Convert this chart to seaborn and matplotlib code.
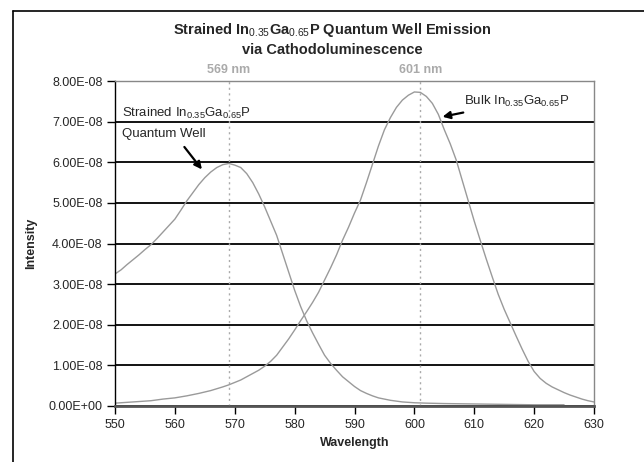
import numpy as np
import pandas as pd
import matplotlib
matplotlib.use("Agg")
import matplotlib.pyplot as plt
import matplotlib.transforms as mtransforms
from matplotlib.lines import Line2D
import seaborn as sns

# Strained quantum well spectrum (intensity in units of 1e-8)
qw_wavelength = [550, 551, 552, 553, 554, 555, 556, 557, 558, 559,
                 560, 561, 562, 563, 564, 565, 566, 567, 568, 569,
                 570, 571, 572, 573, 574, 575, 576, 577, 578, 579,
                 580, 581, 582, 583, 584, 585, 586, 587, 588, 589,
                 590, 591, 592, 593, 594, 595, 596, 597, 598, 599,
                 600, 602, 605, 610, 615, 620, 625]
qw_intensity = [3.25, 3.35, 3.48, 3.60, 3.72, 3.85, 3.97, 4.12, 4.28, 4.44,
                4.60, 4.82, 5.05, 5.25, 5.45, 5.62, 5.76, 5.87, 5.94, 5.97,
                5.93, 5.87, 5.72, 5.50, 5.22, 4.90, 4.55, 4.20, 3.75, 3.30,
                2.85, 2.45, 2.10, 1.80, 1.52, 1.25, 1.05, 0.88, 0.72, 0.60,
                0.48, 0.38, 0.31, 0.25, 0.20, 0.17, 0.14, 0.12, 0.10, 0.09,
                0.08, 0.07, 0.06, 0.05, 0.04, 0.03, 0.03]

# Bulk spectrum (intensity in units of 1e-8)
bulk_wavelength = [550, 552, 554, 556, 558, 560, 562, 564, 566, 568,
                   569, 570, 571, 572, 573, 574, 575, 576, 577, 578,
                   579, 580, 581, 582, 583, 584, 585, 586, 587, 588,
                   589, 590, 591, 592, 593, 594, 595, 596, 597, 598,
                   599, 600, 601, 602, 603, 604, 605, 606, 607, 608,
                   609, 610, 611, 612, 613, 614, 615, 616, 617, 618,
                   619, 620, 621, 622, 623, 624, 625, 626, 627, 628,
                   629, 630]
bulk_intensity = [0.07, 0.09, 0.11, 0.13, 0.17, 0.20, 0.25, 0.31, 0.38, 0.47,
                  0.52, 0.58, 0.64, 0.72, 0.80, 0.88, 0.98, 1.10, 1.25, 1.45,
                  1.65, 1.87, 2.10, 2.32, 2.55, 2.80, 3.10, 3.40, 3.72, 4.08,
                  4.40, 4.75, 5.07, 5.50, 5.95, 6.40, 6.80, 7.10, 7.35, 7.53,
                  7.65, 7.73, 7.72, 7.62, 7.45, 7.18, 6.80, 6.45, 6.05, 5.55,
                  5.05, 4.55, 4.08, 3.62, 3.18, 2.75, 2.38, 2.05, 1.72, 1.40,
                  1.10, 0.85, 0.68, 0.56, 0.47, 0.40, 0.33, 0.27, 0.22, 0.17,
                  0.13, 0.10]

peak_marks = [569, 601]
peak_labels = ["569 nm", "601 nm"]
y_ticks = [0, 1e-8, 2e-8, 3e-8, 4e-8, 5e-8, 6e-8, 7e-8, 8e-8]
y_tick_labels = ["0.00E+00", "1.00E-08", "2.00E-08", "3.00E-08", "4.00E-08",
                 "5.00E-08", "6.00E-08", "7.00E-08", "8.00E-08"]
x_ticks = [550, 560, 570, 580, 590, 600, 610, 620, 630]

df = pd.concat([
    pd.DataFrame({"Wavelength": qw_wavelength,
                  "Intensity": np.array(qw_intensity) * 1e-8,
                  "series": "qw"}),
    pd.DataFrame({"Wavelength": bulk_wavelength,
                  "Intensity": np.array(bulk_intensity) * 1e-8,
                  "series": "bulk"}),
])

sns.set_style("white")
plt.rcParams["font.family"] = ["Liberation Sans", "DejaVu Sans"]
plt.rcParams["mathtext.fontset"] = "custom"
plt.rcParams["mathtext.rm"] = "Liberation Sans"
plt.rcParams["mathtext.it"] = "Liberation Sans:italic"
plt.rcParams["mathtext.bf"] = "Liberation Sans:bold"

fig = plt.figure(figsize=(6.44, 4.62), dpi=100)
ax = fig.add_axes([115 / 644, 1 - 406 / 462, (594 - 115) / 644, (406 - 81) / 462])

sns.lineplot(data=df, x="Wavelength", y="Intensity", units="series",
             estimator=None, color="#9a9a9a", lw=1.0, ax=ax, legend=False)

ax.set_xlim(550, 630)
ax.set_ylim(0, 8e-8)
ax.set_xticks(x_ticks)
ax.set_xticklabels([str(t) for t in x_ticks], fontsize=9)
ax.set_yticks(y_ticks)
ax.set_yticklabels(y_tick_labels, fontsize=9)
ax.yaxis.grid(True, color="black", lw=1.3)
ax.xaxis.grid(False)
ax.set_axisbelow(True)
ax.tick_params(axis="both", direction="out", length=6, width=1, color="black",
               left=True, bottom=True, pad=3)

for side in ["top", "right"]:
    ax.spines[side].set_color("#888888")
    ax.spines[side].set_linewidth(1)
ax.spines["left"].set_color("black")
ax.spines["left"].set_linewidth(1)
ax.spines["bottom"].set_color("#555555")
ax.spines["bottom"].set_linewidth(2)

ax.set_xlabel("Wavelength", fontsize=9, fontweight="bold", labelpad=5)
ax.set_ylabel("Intensity", fontsize=9, fontweight="bold", labelpad=8)

trans = mtransforms.blended_transform_factory(ax.transData, ax.transAxes)
for wl, lab in zip(peak_marks, peak_labels):
    ax.axvline(wl, color="#aaaaaa", ls=(0, (1.5, 2.5)), lw=1)
    ax.text(wl, 1.015, lab, transform=trans, ha="center", va="bottom",
            color="#aaaaaa", fontweight="bold", fontsize=9)

ax.text(551.2, 7.19e-8, r"Strained In$_{0.35}$Ga$_{0.65}$P", fontsize=9.5,
        va="center", ha="left")
ax.text(551.2, 6.70e-8, "Quantum Well", fontsize=9.5, va="center", ha="left")
ax.annotate("", xy=(564.8, 5.77e-8), xytext=(561.3, 6.43e-8),
            arrowprops=dict(arrowstyle="-|>", color="black", lw=1.6,
                            mutation_scale=11))
ax.annotate(r"Bulk In$_{0.35}$Ga$_{0.65}$P", xy=(604.7, 7.12e-8),
            xytext=(608.3, 7.49e-8), fontsize=9.5, va="center", ha="left",
            arrowprops=dict(arrowstyle="-|>", color="black", lw=1.6,
                            mutation_scale=11, shrinkA=0, shrinkB=0))

fig.text(332 / 644, 1 - 30 / 462,
         r"Strained In$_{0.35}$Ga$_{0.65}$P Quantum Well Emission",
         ha="center", va="center", fontsize=10.5, fontweight="bold")
fig.text(332 / 644, 1 - 50 / 462, "via Cathodoluminescence",
         ha="center", va="center", fontsize=10.5, fontweight="bold")

# outer chart border
fig.add_artist(Line2D([13 / 644, 13 / 644], [0, 1 - 11 / 462], color="black", lw=1.2))
fig.add_artist(Line2D([13 / 644, 1], [1 - 11 / 462, 1 - 11 / 462], color="black", lw=1.2))

fig.savefig("out.png", dpi=100)
